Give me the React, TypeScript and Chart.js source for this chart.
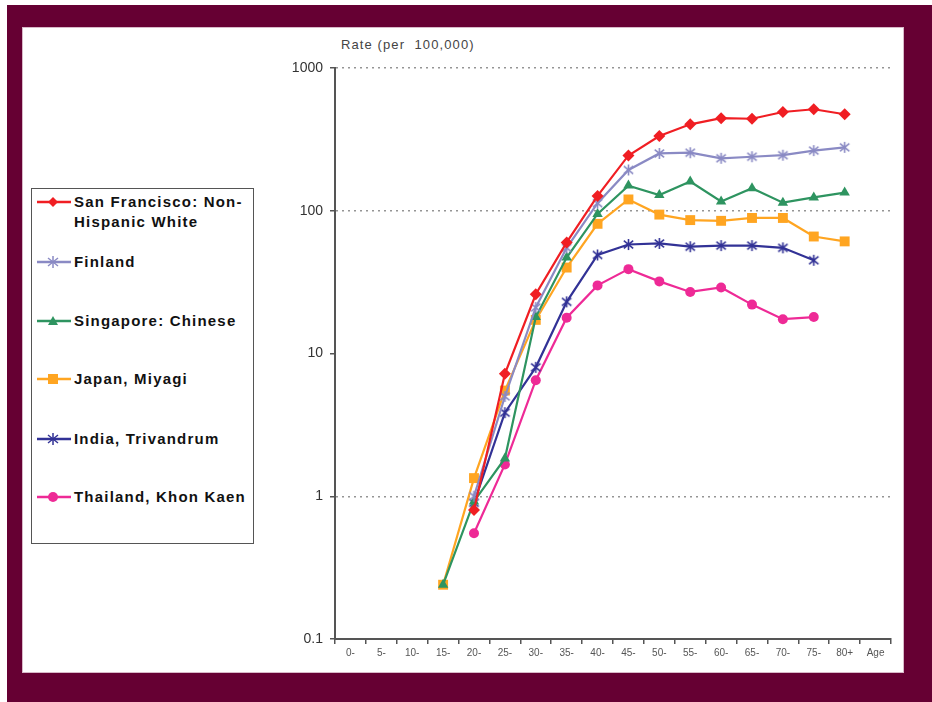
import React, { useEffect, useRef } from "react";
import { Chart, registerables } from "chart.js";

Chart.register(...registerables);

const categories = ["0-", "5-", "10-", "15-", "20-", "25-", "30-", "35-", "40-", "45-", "50-", "55-", "60-", "65-", "70-", "75-", "80+", "Age"];
const yTickValues = [0.1, 1, 10, 100, 1000];

const sanFrancisco = [null, null, null, null, 0.8, 7.2, 26, 60, 127, 244, 334, 403, 445, 441, 492, 514, 474, null];
const finland = [null, null, null, null, 1.0, 5.0, 21, 55, 113, 193, 252, 255, 233, 239, 245, 264, 278, null];
const singapore = [null, null, null, 0.24, 0.92, 1.84, 18, 47, 95, 150, 129, 160, 116, 144, 114, 124, 134, null];
const japan = [null, null, null, 0.24, 1.34, 5.5, 17.2, 40, 81, 120, 94, 86, 85, 89, 89, 66, 61, null];
const india = [null, null, null, null, 0.9, 3.85, 8.0, 23, 49, 58, 59, 56, 57, 57, 55, 45, null, null];
const thailand = [null, null, null, null, 0.55, 1.67, 6.5, 17.8, 30, 39, 32, 27, 29, 22, 17.4, 18, null, null];

const seriesNames = ["San Francisco: Non-Hispanic White", "Finland", "Singapore: Chinese", "Japan, Miyagi", "India, Trivandrum", "Thailand, Khon Kaen"];
const seriesColors = ["#f01e23", "#8a8ac4", "#2e9460", "#ffa521", "#323296", "#ee2a96"];
const seriesMarkers = ["rectRot", "star6", "triangle", "rect", "star6", "circle"];

function makeStar(color: string, size = 13) {
  const c = document.createElement("canvas");
  c.width = size;
  c.height = size;
  const g = c.getContext("2d")!;
  g.strokeStyle = color;
  g.lineWidth = 1.6;
  const m = size / 2;
  const r = size / 2 - 1;
  g.beginPath();
  g.moveTo(m - r * 0.85, m - r * 0.7);
  g.lineTo(m + r * 0.85, m + r * 0.7);
  g.moveTo(m + r * 0.85, m - r * 0.7);
  g.lineTo(m - r * 0.85, m + r * 0.7);
  g.moveTo(m, m - r);
  g.lineTo(m, m + r);
  g.stroke();
  return c;
}

function LegendMarker({ color, marker }: { color: string; marker: string }) {
  let shape: any = null;
  if (marker === "rectRot") shape = <polygon points="16,1 21,6 16,11 11,6" fill={color} />;
  else if (marker === "triangle") shape = <polygon points="16,1 21,10 11,10" fill={color} />;
  else if (marker === "rect") shape = <rect x={11} y={1} width={10} height={10} fill={color} />;
  else if (marker === "circle") shape = <circle cx={16} cy={6} r={5} fill={color} />;
  else
    shape = (
      <g stroke={color} strokeWidth={1.5}>
        <line x1={11} y1={2} x2={21} y2={10} />
        <line x1={21} y1={2} x2={11} y2={10} />
        <line x1={16} y1={0} x2={16} y2={12} />
      </g>
    );
  return (
    <svg width={34} height={12} style={{ position: "absolute", left: 0, top: 0 }}>
      <line x1={0} y1={6} x2={34} y2={6} stroke={color} strokeWidth={2.5} />
      {shape}
    </svg>
  );
}

export default function App() {
  const canvasRef = useRef<HTMLCanvasElement | null>(null);

  useEffect(() => {
    const data = [sanFrancisco, finland, singapore, japan, india, thailand];
    const radii = [6, 6, 6, 7, 6, 5];
    const datasets = data.map((d, i) => {
      const m = seriesMarkers[i];
      const style: any = m === "star6" ? makeStar(seriesColors[i]) : m;
      return {
        label: seriesNames[i],
        data: d,
        borderColor: seriesColors[i],
        backgroundColor: seriesColors[i],
        borderWidth: 2.2,
        pointStyle: style,
        pointRadius: radii[i],
        pointBorderWidth: 0,
        pointBackgroundColor: seriesColors[i],
        pointBorderColor: seriesColors[i],
        spanGaps: false,
        tension: 0,
      };
    });
    const chart = new Chart(canvasRef.current!, {
      type: "line",
      data: { labels: categories, datasets: datasets as any },
      options: {
        animation: false,
        responsive: false,
        maintainAspectRatio: false,
        layout: { padding: { top: 38, right: 12, left: 0, bottom: 0 } },
        plugins: { legend: { display: false }, tooltip: { enabled: false } },
        scales: {
          x: {
            type: "category",
            offset: true,
            afterFit: (s: any) => {
              s.height = 31;
            },
            grid: {
              display: true,
              drawOnChartArea: false,
              offset: true,
              tickLength: 5,
              tickColor: "#555",
              color: "#555",
              lineWidth: 1.5,
            },
            border: { display: true, color: "#555", width: 2 },
            ticks: {
              autoSkip: false,
              maxRotation: 0,
              minRotation: 0,
              padding: 3,
              color: "#555",
              font: { family: "Arial, 'Liberation Sans', sans-serif", size: 10 },
            },
          },
          y: {
            type: "logarithmic",
            min: 0.1,
            max: 1000,
            afterFit: (s: any) => {
              s.width = 55;
            },
            afterBuildTicks: (s: any) => {
              s.ticks = yTickValues.map((v) => ({ value: v }));
            },
            grid: {
              display: true,
              drawOnChartArea: true,
              color: (ctx: any) => {
                const v = ctx.tick ? ctx.tick.value : null;
                return v === 10 || v === 0.1 ? "rgba(0,0,0,0)" : "#959595";
              },
              lineWidth: 1.5,
              tickBorderDash: [],
              tickLength: 5,
              tickColor: "#555",
              tickWidth: 1.5,
            } as any,
            border: { display: true, color: "#555", width: 2, dash: [2, 4] },
            ticks: {
              padding: 7,
              color: "#333",
              font: { family: "Arial, 'Liberation Sans', sans-serif", size: 14 },
              callback: (v: any) => String(v),
            },
          },
        },
      } as any,
    });
    return () => chart.destroy();
  }, []);

  const legendTops = [201, 261, 320, 378, 438, 496];

  return (
    <div style={{ position: "absolute", left: 0, top: 0, width: 932, height: 702, background: "#ffffff", overflow: "hidden" }}>
      <div style={{ position: "absolute", left: 7, top: 5, width: 925, height: 697, background: "#660033" }} />
      <div
        style={{
          position: "absolute",
          left: 22,
          top: 27,
          width: 880,
          height: 644,
          background: "#ffffff",
          border: "1px solid #d8b8c8",
        }}
      />
      <div
        style={{
          position: "absolute",
          left: 341,
          top: 37,
          fontFamily: "Arial, 'Liberation Sans', sans-serif",
          fontSize: 13,
          color: "#444",
          letterSpacing: 1.1,
          whiteSpace: "pre",
        }}
      >
        {"Rate (per  100,000)"}
      </div>
      <canvas
        ref={canvasRef}
        width={623}
        height={640}
        style={{ position: "absolute", left: 280, top: 30, width: 623, height: 640 }}
      />
      <div
        style={{
          position: "absolute",
          left: 31,
          top: 188,
          width: 221,
          height: 354,
          border: "1.5px solid #555",
          background: "#fff",
        }}
      >
        {seriesNames.map((name, i) => (
          <div key={name} style={{ position: "absolute", left: 5, top: legendTops[i] - 188 - 6, width: 215 }}>
            <LegendMarker color={seriesColors[i]} marker={seriesMarkers[i]} />
            <div
              style={{
                position: "absolute",
                left: 37,
                top: -4,
                fontFamily: "Arial, 'Liberation Sans', sans-serif",
                fontWeight: "bold",
                fontSize: 15,
                letterSpacing: 1.2,
                lineHeight: "20px",
                color: "#111",
                whiteSpace: "pre",
              }}
            >
              {i === 0 ? "San Francisco: Non-\nHispanic White" : name}
            </div>
          </div>
        ))}
      </div>
    </div>
  );
}
